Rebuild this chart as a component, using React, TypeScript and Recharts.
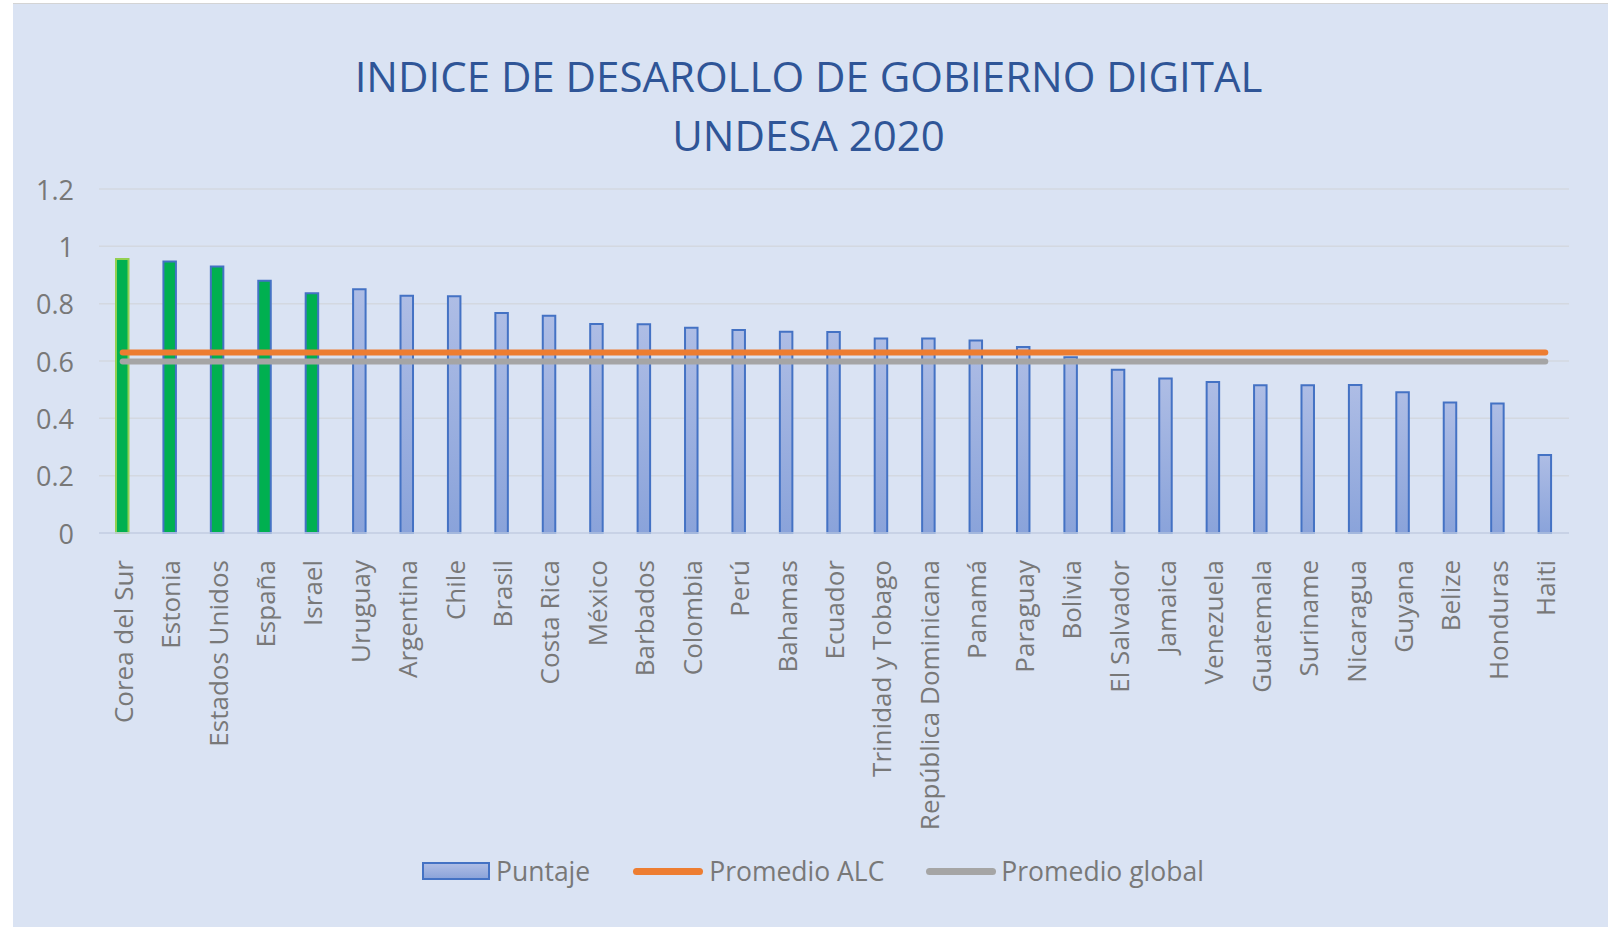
import React from "react";
import {
  ComposedChart,
  Bar,
  Line,
  XAxis,
  YAxis,
  CartesianGrid,
  Legend,
  Cell,
} from "recharts";

const countries = [
  "Corea del Sur", "Estonia", "Estados Unidos", "España", "Israel",
  "Uruguay", "Argentina", "Chile", "Brasil", "Costa Rica", "México",
  "Barbados", "Colombia", "Perú", "Bahamas", "Ecuador", "Trinidad y Tobago",
  "República Dominicana", "Panamá", "Paraguay", "Bolivia", "El Salvador",
  "Jamaica", "Venezuela", "Guatemala", "Suriname", "Nicaragua", "Guyana",
  "Belize", "Honduras", "Haiti",
];

const puntaje = [
  0.956, 0.9473, 0.9297, 0.8801, 0.8361, 0.85, 0.8279, 0.8259, 0.7677,
  0.7576, 0.7291, 0.7279, 0.7164, 0.7083, 0.7017, 0.7015, 0.6785, 0.6782,
  0.6715, 0.6487, 0.6129, 0.5697, 0.5392, 0.5268, 0.5155, 0.5154, 0.5162,
  0.4909, 0.4548, 0.4518, 0.2718,
];

const promedioALC = 0.63;
const promedioGlobal = 0.598;

const highlighted = ["Corea del Sur", "Estonia", "Estados Unidos", "España", "Israel"];

const yTicks = [0, 0.2, 0.4, 0.6, 0.8, 1, 1.2];

const data = countries.map((c, i) => ({
  name: c,
  puntaje: puntaje[i],
  alc: promedioALC,
  global: promedioGlobal,
}));

const FONT = "'Open Sans', 'Noto Sans', sans-serif";
const TEXT_GRAY = "#787878";

const YTick = (props: any) => {
  const { y, payload } = props;
  return (
    <text
      x={61}
      y={y}
      textAnchor="end"
      dominantBaseline="central"
      fontFamily={FONT}
      fontSize={27}
      fill={TEXT_GRAY}
    >
      {String(payload.value)}
    </text>
  );
};

const XTick = (props: any) => {
  const { x, y, payload } = props;
  return (
    <text
      x={0}
      y={0}
      transform={`translate(${x},${y + 19}) rotate(-90)`}
      textAnchor="end"
      dominantBaseline="central"
      fontFamily={FONT}
      fontSize={26}
      fill={TEXT_GRAY}
    >
      {payload.value}
    </text>
  );
};

const LegendContent = () => (
  <div
    style={{
      height: 40,
      display: "flex",
      alignItems: "center",
      paddingLeft: 409,
      fontFamily: FONT,
      fontSize: 26.5,
      color: TEXT_GRAY,
      whiteSpace: "nowrap",
    }}
  >
    <div
      style={{
        width: 64,
        height: 14,
        border: "2px solid #4472C4",
        background: "linear-gradient(#AEBDE5, #8CA4DA)",
      }}
    />
    <span style={{ marginLeft: 6, marginRight: 43 }}>Puntaje</span>
    <div style={{ width: 70, height: 7, borderRadius: 4, background: "#ED7D31" }} />
    <span style={{ marginLeft: 6, marginRight: 42 }}>Promedio ALC</span>
    <div style={{ width: 70, height: 7, borderRadius: 4, background: "#A5A5A5" }} />
    <span style={{ marginLeft: 5 }}>Promedio global</span>
  </div>
);

export default function App() {
  return (
    <div
      style={{
        position: "absolute",
        left: 0,
        top: 0,
        width: 1613,
        height: 927,
        background: "#ffffff",
        overflow: "hidden",
      }}
    >
      <svg width={0} height={0} style={{ position: "absolute" }}>
        <defs>
          <linearGradient id="barGrad" x1="0" y1="0" x2="0" y2="1">
            <stop offset="0%" stopColor="#AEBDE5" />
            <stop offset="100%" stopColor="#8AA3DA" />
          </linearGradient>
        </defs>
      </svg>
      <div
        style={{
          position: "absolute",
          left: 13,
          top: 3,
          width: 1595,
          height: 1,
          background: "#D4D4D4",
        }}
      />
      <div
        style={{
          position: "absolute",
          left: 13,
          top: 4,
          width: 1595,
          height: 923,
          background: "#DAE3F3",
        }}
      >
        <div
          style={{
            position: "absolute",
            left: 0,
            top: 42,
            width: 1591,
            textAlign: "center",
            fontFamily: FONT,
            fontSize: 42,
            lineHeight: "59px",
            color: "#2F5597",
          }}
        >
          <div>INDICE DE DESAROLLO DE GOBIERNO DIGITAL</div>
          <div>UNDESA 2020</div>
        </div>
        <ComposedChart
          width={1595}
          height={923}
          data={data}
          margin={{ top: 185, right: 39, bottom: 36, left: 0 }}
          barCategoryGap={0}
        >
          <CartesianGrid vertical={false} stroke="#D3D8E0" strokeWidth={1.5} />
          <XAxis
            dataKey="name"
            interval={0}
            height={318}
            tickLine={false}
            axisLine={{ stroke: "#C3CFE6", strokeWidth: 1.5 }}
            tick={<XTick />}
          />
          <YAxis
            width={86}
            domain={[0, 1.2]}
            ticks={yTicks}
            axisLine={false}
            tickLine={false}
            tick={<YTick />}
          />
          <Bar dataKey="puntaje" name="Puntaje" barSize={12.5} isAnimationActive={false}>
            {data.map((d, i) => {
              const hi = highlighted.includes(d.name);
              return (
                <Cell
                  key={i}
                  fill={hi ? "#00B050" : "url(#barGrad)"}
                  stroke={i === 0 ? "#92D050" : "#4472C4"}
                  strokeWidth={2}
                />
              );
            })}
          </Bar>
          <Line
            type="linear"
            dataKey="alc"
            name="Promedio ALC"
            stroke="#ED7D31"
            strokeWidth={6}
            strokeLinecap="round"
            dot={false}
            activeDot={false}
            isAnimationActive={false}
          />
          <Line
            type="linear"
            dataKey="global"
            name="Promedio global"
            stroke="#A5A5A5"
            strokeWidth={6}
            strokeLinecap="round"
            dot={false}
            activeDot={false}
            isAnimationActive={false}
          />
          <Legend
            verticalAlign="bottom"
            content={<LegendContent />}
            wrapperStyle={{ left: 0, width: 1595 }}
          />
        </ComposedChart>
      </div>
    </div>
  );
}
